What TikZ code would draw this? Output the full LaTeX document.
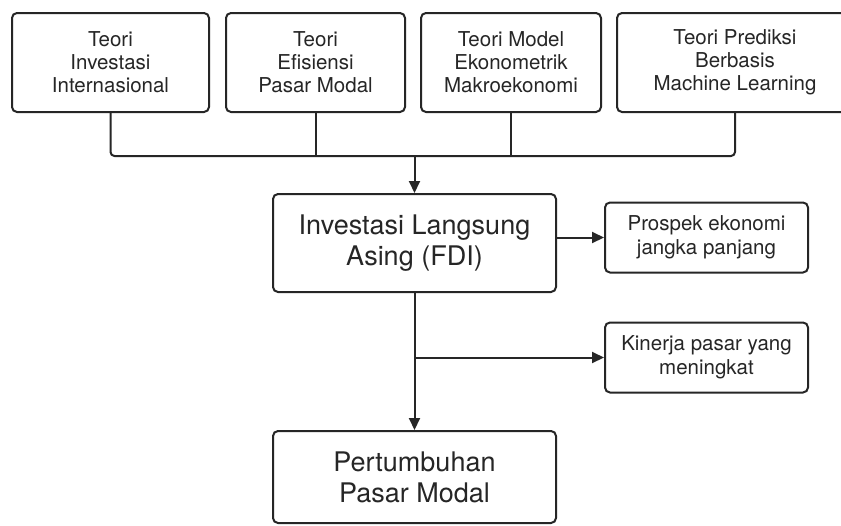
\documentclass[tikz,border=0pt]{standalone}
\usepackage{fontspec}
\setmainfont{TeX Gyre Heros}
\usetikzlibrary{arrows.meta}
\definecolor{ink}{HTML}{262626}
\tikzset{
  box/.style={draw=ink, line width=2pt, rounded corners=5pt, align=center, inner sep=0pt, text=ink},
  topbox/.style={box, minimum height=99pt, font=\fontsize{20.5}{23}\selectfont},
  bigbox/.style={box, minimum width=283pt, font=\fontsize{27}{31}\selectfont},
  sidebox/.style={box, minimum width=203pt, minimum height=70pt, font=\fontsize{20.5}{24}\selectfont},
  conn/.style={draw=ink, line width=2pt},
  arr/.style={conn, -{Triangle[length=12pt,width=11pt]}}
}
\begin{document}
\begin{tikzpicture}[x=1pt,y=-1pt]
\clip (0,0) rectangle (841,525);
\fill[white] (0,0) rectangle (841,525);
\node[topbox, minimum width=197pt] (b1) at (110.5,62.5) {Teori\\Investasi\\Internasional};
\node[topbox, minimum width=179pt] (b2) at (315.5,62.5) {Teori\\Efisiensi\\Pasar Modal};
\node[topbox, minimum width=180pt] (b3) at (511,62.5) {Teori Model\\Ekonometrik\\Makroekonomi};
\node[topbox, minimum width=236pt] (b4) at (735,62.5) {Teori Prediksi\\Berbasis\\Machine Learning};
\node[bigbox, minimum height=98pt] (fdi) at (414.5,243) {Investasi Langsung\\Asing (FDI)};
\node[bigbox, minimum height=92pt] (pert) at (414.5,477) {Pertumbuhan\\Pasar Modal};
\node[sidebox] (pros) at (706.5,237.5) {Prospek ekonomi\\jangka panjang};
\node[sidebox] (kin) at (706.5,357.5) {Kinerja pasar yang\\meningkat};
\coordinate (hub) at (414.5,156);
\coordinate (br) at (fdi.south |- kin.west);
\draw[conn, rounded corners=4pt] (b1.south) |- (hub) -| (b4.south);
\draw[conn] (b2.south) -- (b2.south |- hub);
\draw[conn] (b3.south) -- (b3.south |- hub);
\draw[arr] (hub) -- (fdi.north);
\draw[arr] (fdi.east |- pros.west) -- (pros.west);
\draw[arr] (fdi.south) -- (pert.north);
\draw[arr] (br) -- (kin.west);
\end{tikzpicture}
\end{document}
